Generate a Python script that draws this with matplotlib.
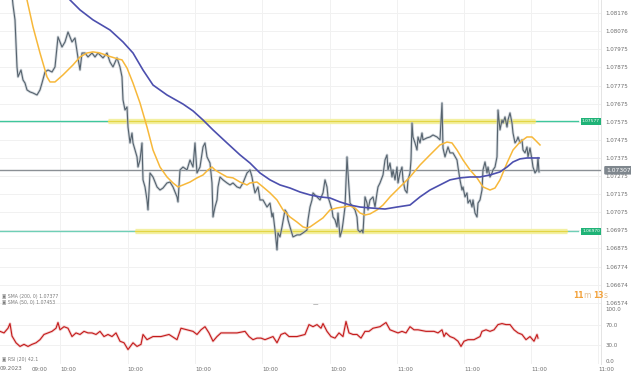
import matplotlib
matplotlib.use("Agg")
import matplotlib.pyplot as plt
import matplotlib.transforms as mtransforms

# bar position (time axis) and close price
price_x = [12, 13, 15, 17, 18, 21, 23, 25, 27, 30,
           33, 37, 40, 42, 45, 48, 52, 55, 58, 62,
           65, 68, 72, 75, 78, 80, 82, 85, 88, 92,
           95, 98, 103, 107, 110, 113, 117, 120, 122, 123,
           125, 127, 128, 130, 132, 133, 135, 137, 138, 140,
           142, 143, 145, 147, 148, 150, 153, 157, 160, 163,
           167, 170, 173, 177, 178, 180, 183, 187, 190, 193,
           195, 197, 200, 203, 205, 207, 210, 212, 213, 215,
           217, 218, 220, 223, 227, 230, 233, 237, 240, 243,
           247, 250, 252, 253, 255, 258, 260, 263, 267, 270,
           272, 273, 275, 277, 278, 280, 282, 285, 287, 288,
           290, 293, 297, 300, 303, 307, 308, 310, 312, 313,
           317, 320, 323, 325, 327, 328, 330, 332, 333, 335,
           337, 338, 340, 342, 343, 345, 347, 348, 350, 353,
           355, 357, 358, 360, 362, 363, 365, 367, 368, 370,
           373, 375, 377, 378, 380, 383, 385, 387, 388, 390,
           392, 393, 395, 397, 398, 400, 402, 403, 405, 407,
           408, 410, 411, 412, 413, 415, 417, 418, 420, 422,
           423, 427, 430, 433, 437, 440, 442, 443, 445, 447,
           448, 450, 453, 457, 458, 460, 462, 463, 465, 467,
           468, 470, 472, 473, 475, 477, 478, 480, 482, 483,
           485, 487, 488, 490, 492, 493, 495, 497, 498, 500,
           502, 503, 505, 507, 508, 510, 512, 513, 515, 517,
           518, 520, 522, 523, 525, 527, 528, 530, 532, 533,
           535, 537, 538, 539]
price = [1.08276, 1.08220, 1.08138, 1.07878, 1.07823, 1.07861, 1.07806, 1.07789, 1.07751, 1.07740,
         1.07734, 1.07723, 1.07751, 1.07789, 1.07850, 1.07861, 1.07850, 1.07878, 1.08044, 1.07988,
         1.08016, 1.08071, 1.08016, 1.08038, 1.07928, 1.07861, 1.07955, 1.07955, 1.07933, 1.07955,
         1.07933, 1.07955, 1.07928, 1.07955, 1.07905, 1.07878, 1.07928, 1.07878, 1.07823, 1.07696,
         1.07640, 1.07657, 1.07546, 1.07458, 1.07513, 1.07458, 1.07419, 1.07381, 1.07325, 1.07364,
         1.07458, 1.07254, 1.07215, 1.07143, 1.07088, 1.07292, 1.07270, 1.07215, 1.07198, 1.07209,
         1.07237, 1.07242, 1.07215, 1.07160, 1.07132, 1.07309, 1.07325, 1.07309, 1.07364, 1.07325,
         1.07458, 1.07292, 1.07325, 1.07436, 1.07458, 1.07381, 1.07347, 1.07237, 1.07049, 1.07104,
         1.07143, 1.07215, 1.07270, 1.07254, 1.07237, 1.07226, 1.07237, 1.07215, 1.07209, 1.07237,
         1.07292, 1.07309, 1.07270, 1.07237, 1.07182, 1.07215, 1.07143, 1.07143, 1.07104, 1.07126,
         1.07049, 1.07071, 1.06977, 1.06867, 1.06961, 1.06939, 1.06994, 1.07088, 1.07071, 1.07033,
         1.06994, 1.06939, 1.06950, 1.06950, 1.06961, 1.06977, 1.07033, 1.07104, 1.07143, 1.07182,
         1.07160, 1.07143, 1.07182, 1.07254, 1.07215, 1.07160, 1.07126, 1.07088, 1.07049, 1.07033,
         1.06994, 1.07071, 1.06939, 1.06977, 1.07016, 1.07104, 1.07381, 1.07292, 1.07126, 1.07104,
         1.07088, 1.07049, 1.06977, 1.06966, 1.06977, 1.06961, 1.07160, 1.07126, 1.07088, 1.07143,
         1.07160, 1.07104, 1.07182, 1.07215, 1.07237, 1.07281, 1.07364, 1.07392, 1.07309, 1.07347,
         1.07270, 1.07309, 1.07254, 1.07325, 1.07237, 1.07292, 1.07325, 1.07254, 1.07198, 1.07182,
         1.07254, 1.07292, 1.07364, 1.07568, 1.07491, 1.07458, 1.07419, 1.07491, 1.07458, 1.07513,
         1.07475, 1.07486, 1.07491, 1.07502, 1.07491, 1.07475, 1.07679, 1.07430, 1.07381, 1.07419,
         1.07436, 1.07403, 1.07403, 1.07364, 1.07325, 1.07254, 1.07198, 1.07215, 1.07160, 1.07182,
         1.07126, 1.07143, 1.07104, 1.07143, 1.07071, 1.07049, 1.07126, 1.07143, 1.07198, 1.07309,
         1.07353, 1.07292, 1.07325, 1.07270, 1.07292, 1.07309, 1.07325, 1.07381, 1.07640, 1.07530,
         1.07585, 1.07568, 1.07602, 1.07546, 1.07585, 1.07624, 1.07568, 1.07513, 1.07458, 1.07475,
         1.07491, 1.07458, 1.07475, 1.07419, 1.07403, 1.07436, 1.07381, 1.07430, 1.07364, 1.07325,
         1.07292, 1.07309, 1.07375, 1.07298]

sma50_x = [24, 27, 33, 40, 47, 50, 55, 63, 73, 80,
           87, 93, 100, 108, 118, 122, 127, 133, 140, 147,
           153, 160, 167, 173, 178, 183, 190, 197, 203, 208,
           212, 215, 220, 227, 233, 240, 247, 250, 257, 263,
           270, 277, 283, 290, 297, 303, 307, 310, 317, 323,
           330, 337, 343, 350, 355, 360, 365, 370, 377, 383,
           390, 400, 410, 420, 430, 440, 447, 452, 457, 463,
           470, 477, 483, 490, 495, 500, 507, 513, 520, 527,
           532, 535, 540]
sma50 = [1.08303, 1.08248, 1.08099, 1.07955, 1.07823, 1.07795, 1.07795, 1.07834, 1.07889, 1.07933,
         1.07955, 1.07961, 1.07955, 1.07939, 1.07922, 1.07917, 1.07872, 1.07789, 1.07679, 1.07546,
         1.07419, 1.07325, 1.07270, 1.07237, 1.07215, 1.07226, 1.07242, 1.07265, 1.07281, 1.07309,
         1.07325, 1.07309, 1.07292, 1.07270, 1.07265, 1.07242, 1.07226, 1.07237, 1.07242, 1.07215,
         1.07182, 1.07143, 1.07088, 1.07049, 1.07021, 1.06994, 1.06988, 1.06994, 1.07021, 1.07044,
         1.07088, 1.07099, 1.07104, 1.07110, 1.07099, 1.07071, 1.07060, 1.07066, 1.07088, 1.07115,
         1.07160, 1.07215, 1.07270, 1.07336, 1.07392, 1.07447, 1.07463, 1.07458, 1.07419, 1.07364,
         1.07309, 1.07265, 1.07215, 1.07198, 1.07209, 1.07254, 1.07347, 1.07419, 1.07463, 1.07491,
         1.07491, 1.07475, 1.07447]

sma200_x = [66, 70, 80, 93, 110, 123, 133, 143, 153, 167,
            183, 193, 203, 213, 227, 240, 250, 260, 270, 280,
            290, 300, 310, 320, 330, 340, 350, 360, 370, 385,
            397, 410, 420, 430, 440, 450, 460, 470, 480, 490,
            500, 507, 513, 520, 527, 539]
sma200 = [1.08276, 1.08248, 1.08193, 1.08138, 1.08082, 1.08016, 1.07955, 1.07861, 1.07778, 1.07723,
          1.07673, 1.07635, 1.07585, 1.07530, 1.07458, 1.07392, 1.07347, 1.07292, 1.07254, 1.07226,
          1.07209, 1.07187, 1.07171, 1.07160, 1.07154, 1.07132, 1.07115, 1.07104, 1.07099, 1.07093,
          1.07104, 1.07115, 1.07160, 1.07198, 1.07226, 1.07254, 1.07265, 1.07270, 1.07270, 1.07281,
          1.07298, 1.07325, 1.07353, 1.07370, 1.07375, 1.07375]

rsi_x = [0, 4, 8, 10, 12, 16, 20, 24, 28, 32,
         36, 40, 44, 48, 52, 56, 58, 60, 64, 68,
         72, 76, 80, 84, 88, 92, 96, 100, 104, 108,
         112, 116, 120, 124, 128, 133, 137, 141, 143, 147,
         153, 161, 169, 177, 181, 187, 193, 197, 201, 205,
         209, 213, 217, 221, 229, 237, 245, 249, 253, 257,
         261, 265, 269, 273, 277, 281, 285, 289, 297, 305,
         309, 313, 317, 321, 323, 327, 331, 335, 339, 343,
         346, 349, 353, 357, 361, 365, 369, 373, 380, 386,
         390, 394, 398, 402, 406, 410, 414, 418, 426, 434,
         438, 442, 444, 446, 450, 454, 458, 461, 464, 468,
         474, 480, 482, 486, 490, 494, 498, 502, 506, 510,
         514, 518, 522, 526, 530, 534, 537, 538]
rsi = [57, 54, 63, 72, 48, 35, 28, 32, 28, 32,
       35, 41, 51, 54, 57, 63, 74, 60, 66, 63,
       47, 54, 51, 57, 54, 54, 51, 57, 47, 51,
       47, 54, 38, 35, 22, 35, 28, 32, 51, 41,
       47, 47, 51, 41, 63, 60, 57, 51, 60, 66,
       54, 38, 47, 54, 54, 54, 57, 47, 41, 44,
       44, 41, 44, 47, 35, 51, 54, 47, 47, 51,
       70, 66, 70, 63, 72, 57, 47, 44, 54, 47,
       76, 54, 51, 51, 44, 57, 57, 63, 66, 74,
       60, 57, 54, 57, 54, 66, 60, 60, 57, 57,
       54, 60, 47, 54, 47, 44, 38, 28, 38, 41,
       41, 47, 57, 60, 57, 60, 70, 72, 70, 70,
       60, 54, 51, 41, 47, 38, 51, 44]

y_ticks = [1.08176, 1.08076, 1.07975, 1.07875, 1.07775, 1.07675, 1.07575, 1.07475, 1.07375,
           1.07275, 1.07175, 1.07075, 1.06975, 1.06875, 1.06774, 1.06674, 1.06574]
rsi_ticks = [0, 30, 70, 100]
x_grid = [60, 127.5, 195, 262, 330, 397, 464, 531, 598]
x_labels = ["10:00", "10:00", "10:00", "10:00", "10:00", "11:00", "11:00", "11:00", "11:00"]

upper_level = 1.07577
last_price = 1.07307
lower_level = 1.06970

W, H = 631, 376
fig = plt.figure(figsize=(W / 100, H / 100), dpi=100)
ax = fig.add_axes([0, 71 / H, 601 / W, 305 / H])
ax2 = fig.add_axes([0, 12 / H, 601 / W, 59 / H])

grid_c = "#f1f1f1"
lab_c = "#6b6b6b"

for a in (ax, ax2):
    a.set_xlim(0, 601)
    for s in ("left", "top", "bottom"):
        a.spines[s].set_visible(False)
    a.spines["right"].set_color("#e4e4e4")
    a.spines["right"].set_linewidth(0.7)
    for gx in x_grid:
        a.axvline(gx, color=grid_c, lw=0.7, zorder=0)
    a.yaxis.tick_right()
    a.tick_params(axis="both", length=0, labelsize=4, labelcolor=lab_c, pad=3)

# ---- main price panel
ax.set_ylim(1.065627, 1.082478)
ax.set_yticks(y_ticks)
ax.set_yticklabels([f"{v:.5f}" for v in y_ticks])
ax.set_xticks([])
for v in y_ticks:
    ax.axhline(v, color=grid_c, lw=0.7, zorder=0)

# level lines with yellow highlight bands
ax.plot([0, 578], [upper_level, upper_level], color="#3fc79c", lw=1.0, zorder=2)
ax.plot([108, 535], [upper_level, upper_level], color="#f3f0a2", lw=3.8, zorder=2, solid_capstyle="butt")
ax.plot([108, 535], [upper_level, upper_level], color="#e3d545", lw=0.9, zorder=2)
ax.plot([0, 578], [lower_level, lower_level], color="#6fcfb6", lw=1.0, zorder=2)
ax.plot([135, 567], [lower_level, lower_level], color="#f3f0a2", lw=3.8, zorder=2, solid_capstyle="butt")
ax.plot([135, 567], [lower_level, lower_level], color="#e3d545", lw=0.9, zorder=2)
ax.axhline(last_price, color="#8b9095", lw=1.0, zorder=2)

ax.plot(price_x, price, color="#b9c2ca", lw=2.0, alpha=0.6, zorder=3)
ax.plot(price_x, price, color="#56636e", lw=0.8, zorder=4)
ax.plot(sma50_x, sma50, color="#f7b83a", lw=1.1, zorder=5)
ax.plot(sma200_x, sma200, color="#4c4fae", lw=1.2, zorder=5)

for lvl in (upper_level, lower_level):
    ax.text(600, lvl, f"{lvl:.5f}", ha="right", va="center", fontsize=3.2, color="white",
            zorder=7, bbox=dict(boxstyle="square,pad=0.3", fc="#1fb377", ec="none"))
trans = mtransforms.blended_transform_factory(ax.transAxes, ax.transData)
ax.text(1.0 + 5 / 601, last_price, f"{last_price:.5f}", transform=trans, ha="left", va="center",
        fontsize=4.3, color="white", zorder=8, clip_on=False,
        bbox=dict(boxstyle="round,pad=0.3,rounding_size=0.2", fc="#7f878e", ec="none"))

ax.text(2, 1.06612, "\u25a3 SMA (200, 0) 1.07377", fontsize=3.3, color="#7a7a7a", va="center")
ax.text(2, 1.06578, "\u25a3 SMA (50, 0) 1.07453", fontsize=3.3, color="#7a7a7a", va="center")

# countdown text: orange numbers, muted units
cd = [("11", "#f3a23a", "bold"), ("m ", "#e2bd8c", "normal"),
      ("13", "#f3a23a", "bold"), ("s", "#e2bd8c", "normal")]
fig.canvas.draw()
renderer = fig.canvas.get_renderer()
x0 = 573
for txt, col, wt in cd:
    t = fig.text(x0 / W, 1 - 295 / H, txt, fontsize=5.5, color=col, va="center", ha="left",
                 fontweight=wt)
    x0 += t.get_window_extent(renderer).width

# ---- RSI panel
ax2.set_ylim(-5.8, 107.7)
ax2.set_yticks(rsi_ticks)
ax2.set_yticklabels([f"{v:.1f}" for v in rsi_ticks])
for v in (30, 70):
    ax2.axhline(v, color=grid_c, lw=0.7, zorder=0)
ax2.plot(rsi_x, rsi, color="#e89a9a", lw=2.0, alpha=0.45, zorder=3)
ax2.plot(rsi_x, rsi, color="#c41b1b", lw=0.8, zorder=4)
ax2.text(2, 3, "\u25a3 RSI (20) 42.1", fontsize=3.3, color="#7a7a7a", va="center")

ax2.set_xticks([32] + x_grid)
ax2.set_xticklabels(["09:00"] + x_labels)
ax2.tick_params(axis="x", pad=2.5)
for lbl in ax2.get_xticklabels():
    lbl.set_ha("left")
fig.text(0 / W, 1 - 369 / H, "09.2023", fontsize=4, color=lab_c, va="center", ha="left")
fig.text(315 / W, 1 - 305 / H, "\u2014", fontsize=4, color="#555555", ha="center", va="center")

fig.savefig("out.png", dpi=100)
